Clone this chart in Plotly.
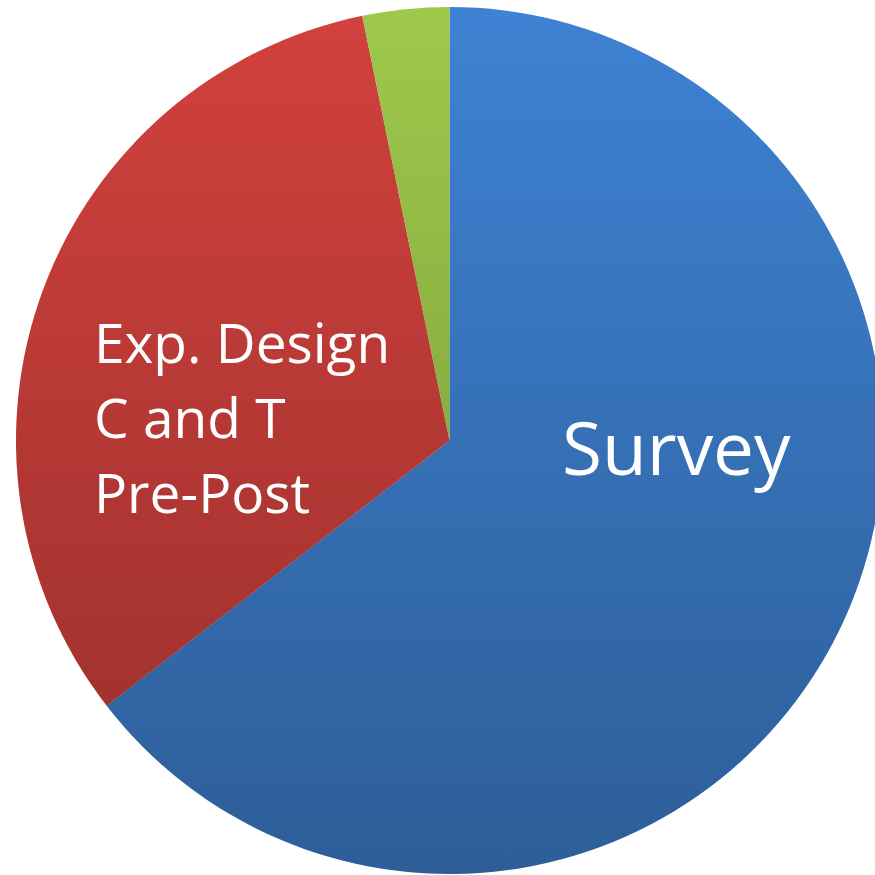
import base64
import plotly.graph_objects as go

# Study designs (counts of studies)
labels = ["Survey", "Exp. Design C and T Pre-Post", "Other"]
counts = [20, 10, 1]
colors = ["#3e82d3", "#d2413d", "#9ec94b"]

# Text lines drawn on the slices
exp_lines = ["Exp. Design", "C and T", "Pre-Post"]
survey_text = "Survey"

# Figure geometry (px)
W, H = 884, 875
ML, MR, MT, MB = 16, 1, 7, 1
PW, PH = W - ML - MR, H - MT - MB


def px_to_paper(x, y):
    return (x - ML) / PW, (H - MB - y) / PH


fig = go.Figure(
    go.Pie(
        labels=labels,
        values=counts,
        marker=dict(colors=colors, line=dict(width=0)),
        sort=False,
        direction="clockwise",
        rotation=0,
        textinfo="none",
        hoverinfo="label+value+percent",
        showlegend=False,
    )
)

# Soft top-to-bottom shading across the pie disc
shade_svg = (
    '<svg xmlns="http://www.w3.org/2000/svg" viewBox="0 0 100 100" preserveAspectRatio="none">'
    '<defs><linearGradient id="g" x1="0" y1="0" x2="0" y2="1">'
    '<stop offset="0" stop-color="#000" stop-opacity="0"/>'
    '<stop offset="1" stop-color="#000" stop-opacity="0.28"/>'
    '</linearGradient></defs>'
    '<circle cx="50" cy="50" r="50" fill="url(#g)"/></svg>'
)
shade_uri = "data:image/svg+xml;base64," + base64.b64encode(shade_svg.encode()).decode()
fig.add_layout_image(
    dict(
        source=shade_uri,
        xref="paper", yref="paper",
        x=0, y=1, sizex=1, sizey=1,
        xanchor="left", yanchor="top",
        sizing="stretch", layer="above", opacity=1,
    )
)

font_family = "Open Sans, Liberation Sans, sans-serif"

# Left-aligned three-line label on the red slice
for line, ypx in zip(exp_lines, [341, 416, 491]):
    ex, ey = px_to_paper(92, ypx)
    fig.add_annotation(
        x=ex, y=ey, xref="paper", yref="paper",
        xanchor="left", yanchor="middle", align="left",
        text=line,
        showarrow=False,
        font=dict(family=font_family, size=55, color="white"),
    )

sx, sy = px_to_paper(676, 446)
fig.add_annotation(
    x=sx, y=sy, xref="paper", yref="paper",
    xanchor="center", yanchor="middle",
    text=survey_text,
    showarrow=False,
    font=dict(family=font_family, size=73, color="white"),
)

fig.update_layout(
    width=W, height=H,
    margin=dict(l=ML, r=MR, t=MT, b=MB, pad=0),
    paper_bgcolor="white",
    plot_bgcolor="white",
)

fig.write_html(
    "out.html",
    post_script="document.documentElement.style.overflow='hidden';"
                "document.body.style.overflow='hidden';document.body.style.margin='0';",
)
